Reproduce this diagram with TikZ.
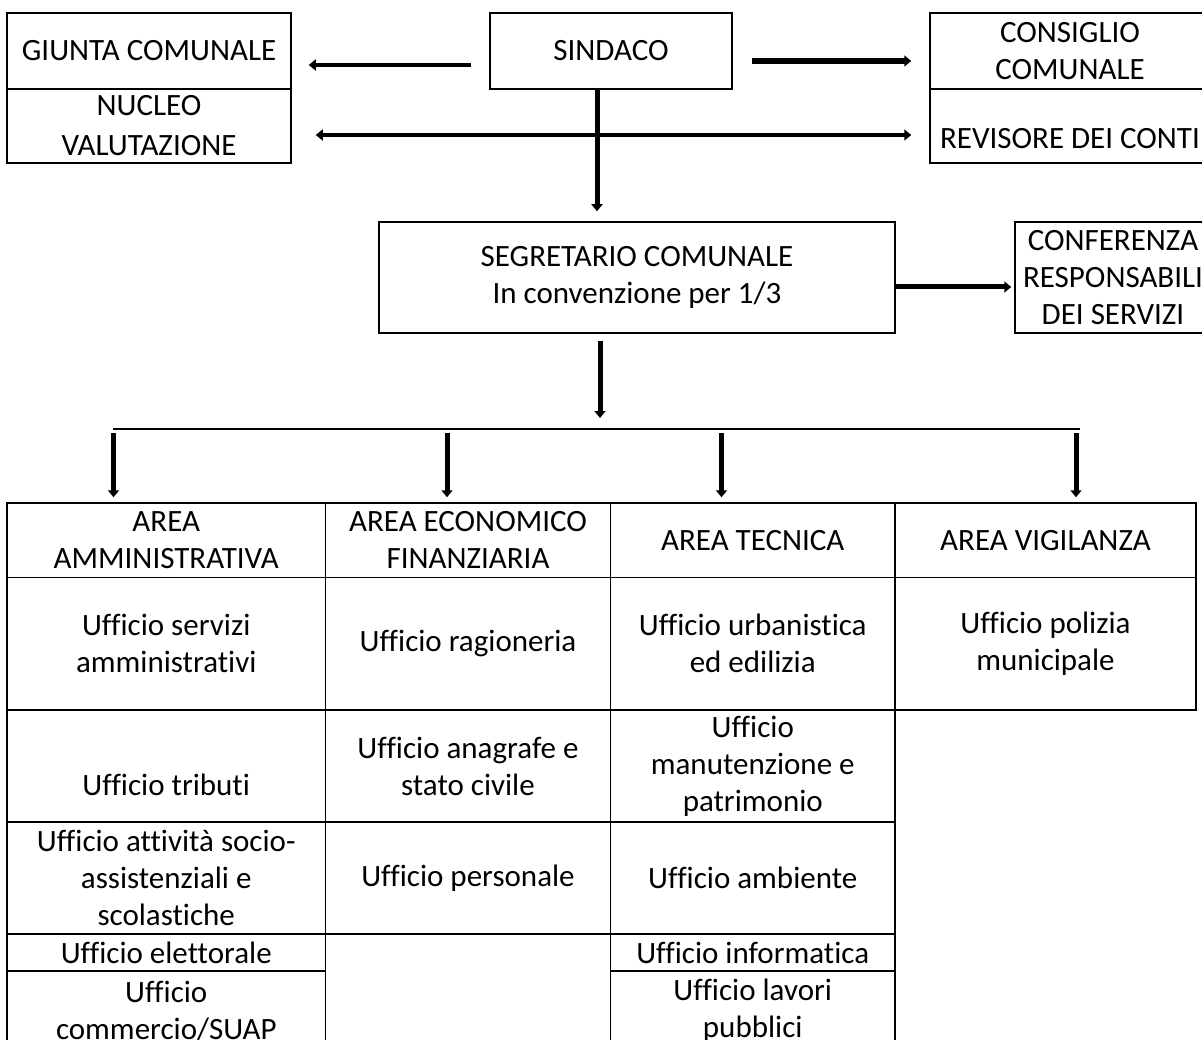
\documentclass[tikz,border=0pt]{standalone}
\usepackage{fontspec}
\setmainfont{Carlito}[Ligatures=NoCommon]
\usetikzlibrary{arrows.meta, positioning, calc}

\begin{document}
\begin{tikzpicture}[x=1pt, y=-1pt,
  every node/.style={font=\fontsize{31}{37}\selectfont, align=center, inner sep=0pt},
  box/.style={draw, line width=1.5pt},
  >={Triangle[length=7pt, width=11pt]},
  arr/.style={line width=5pt, ->},
  ]
\useasboundingbox (0,0) rectangle (1202,1040);
\clip (0,0) rectangle (1202,1040);

%organi
\node[box, minimum width=284, minimum height=76] (giunta) at (149,51) {GIUNTA COMUNALE};
\node[box, minimum width=284, minimum height=74, font=\fontsize{31}{40}\selectfont] (nucleo) at (149,126) {NUCLEO\\VALUTAZIONE};
\node[box, minimum width=242, minimum height=76] (sindaco) at (611,51) {SINDACO};
\node[box, minimum width=280, minimum height=76] (consiglio) at (1070,51) {CONSIGLIO\\COMUNALE};
\node[box, minimum width=280, minimum height=74, label={[yshift=-13pt]center:REVISORE DEI CONTI}] (revisore) at (1070,126) {};
\node[box, minimum width=516, minimum height=111] (segretario) at (637,277.5) {SEGRETARIO COMUNALE\\In convenzione per 1/3};
\node[box, minimum width=196, minimum height=111] (conferenza) at (1113,277.5) {CONFERENZA\\RESPONSABILI\\DEI SERVIZI};

\draw[arr, line width=4pt, shorten <=18pt, shorten >=17pt] ($(sindaco.west)+(0,14)$) -- ($(giunta.east)+(0,14)$);
\draw[arr, line width=6pt, shorten <=19pt, shorten >=18pt] ($(sindaco.east)+(0,10)$) -- ($(consiglio.west)+(0,10)$);
\draw[arr, line width=4pt, <->, shorten <=24pt, shorten >=18pt] ($(nucleo.east)+(0,9)$) -- ($(revisore.west)+(0,9)$);
\draw[arr, shorten >=10pt] ($(sindaco.south)+(-14,-2)$) -- ($(segretario.north)+(-40,0)$);
\draw[arr, shorten >=3pt] ($(segretario.east)+(0,9.5)$) -- ($(conferenza.west)+(0,9.5)$);

%aree
\coordinate (bar) at (600,429);
\coordinate (barL) at (113,429);
\coordinate (barR) at (1080,429);
\draw[arr, shorten <=7pt, shorten >=11pt] ($(segretario.south)+(-37,0)$) -- (bar);
\draw[line width=2.3pt] (barL) -- (barR);

\node[box, minimum width=318.5, minimum height=74.5] (amm) at (166.25,540.25) {AREA\\AMMINISTRATIVA};
\node[box, minimum width=285, minimum height=74.5] (eco) at (468,540.25) {AREA ECONOMICO\\FINANZIARIA};
\node[box, minimum width=284.5, minimum height=74.5] (tec) at (752.75,540.25) {AREA TECNICA};
\node[box, minimum width=301, minimum height=74.5] (vig) at (1045.5,540.25) {AREA VIGILANZA};

\coordinate (b1) at (113.5,433);
\coordinate (b2) at (447,433);
\coordinate (b3) at (721.5,433);
\coordinate (b4) at (1076,433);
\draw[arr, shorten >=5pt] (b1) -- (b1 |- amm.north);
\draw[arr, shorten >=5pt] (b2) -- (b2 |- eco.north);
\draw[arr, shorten >=5pt] (b3) -- (b3 |- tec.north);
\draw[arr, shorten >=5pt] (b4) -- (b4 |- vig.north);

%uffici
\node[box, minimum width=318.5, minimum height=132.5] (servizi) at (166.25,643.75) {Ufficio servizi\\amministrativi};
\node[box, minimum width=285, minimum height=132.5] (ragioneria) at (468,643.75) {Ufficio ragioneria};
\node[box, minimum width=284.5, minimum height=132.5] (urbanistica) at (752.75,643.75) {Ufficio urbanistica\\ed edilizia};
\node[box, minimum width=301, minimum height=132.5] (polizia) at (1045.5,643.75) {Ufficio polizia\\municipale};

\node[box, minimum width=318.5, minimum height=112, label={[yshift=-19pt]center:Ufficio tributi}] (tributi) at (166.25,766) {};
\node[box, minimum width=285, minimum height=112] (anagrafe) at (468,766) {Ufficio anagrafe e\\stato civile};
\node[box, minimum width=284.5, minimum height=112] (manutenzione) at (752.75,766) {Ufficio\\manutenzione e\\patrimonio};

\node[box, minimum width=318.5, minimum height=112] (socio) at (166.25,878) {Ufficio attività socio-\\assistenziali e\\scolastiche};
\node[box, minimum width=285, minimum height=112] (personale) at (468,878) {Ufficio personale};
\node[box, minimum width=284.5, minimum height=112] (ambiente) at (752.75,878) {Ufficio ambiente};

\node[box, minimum width=318.5, minimum height=37] (elettorale) at (166.25,952.5) {Ufficio elettorale};
\node[box, minimum width=285, minimum height=117] (vuoto) at (468,992.5) {};
\node[box, minimum width=284.5, minimum height=37] (informatica) at (752.75,952.5) {Ufficio informatica};

\node[box, minimum width=318.5, minimum height=80] (commercio) at (166.25,1011) {Ufficio\\commercio/SUAP};
\node[box, minimum width=284.5, minimum height=80] (lavori) at (752.75,1011) {Ufficio lavori\\pubblici};
\end{tikzpicture}
\end{document}
